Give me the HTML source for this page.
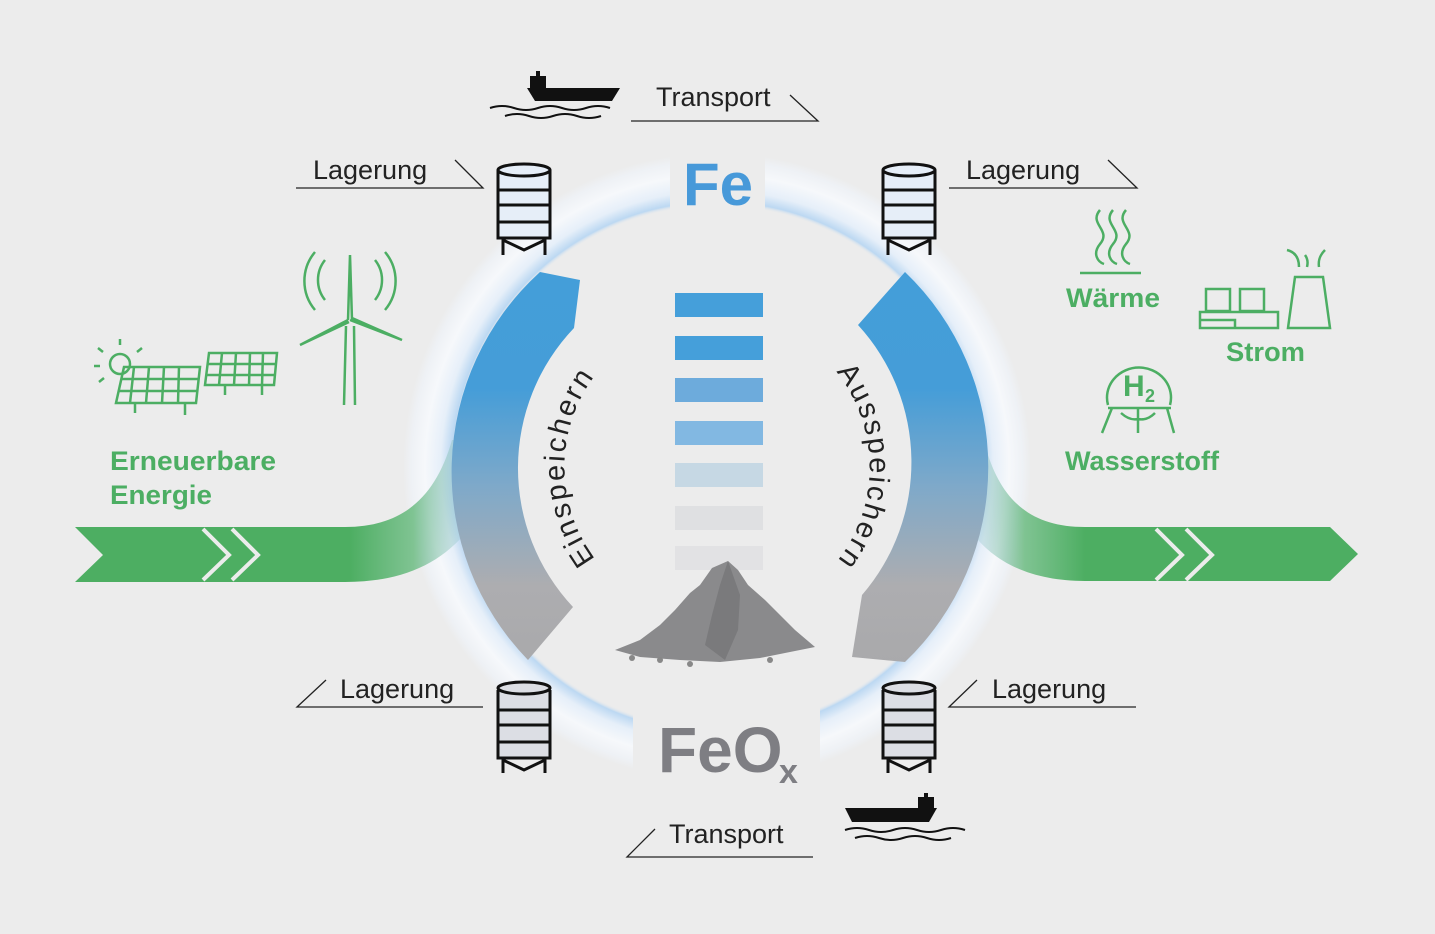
<!DOCTYPE html>
<html><head><meta charset="utf-8"><style>
html,body{margin:0;padding:0;background:#ececec}
svg{display:block}
text{font-family:"Liberation Sans","DejaVu Sans",sans-serif}
</style></head><body>
<svg width="1435" height="934" viewBox="0 0 1435 934" xmlns="http://www.w3.org/2000/svg">
<defs>
<radialGradient id="halo" cx="717" cy="467" r="314" gradientUnits="userSpaceOnUse">
<stop offset="0" stop-color="#ececec" stop-opacity="0"/>
<stop offset="0.83" stop-color="#ececec" stop-opacity="0"/>
<stop offset="0.845" stop-color="#bcd8f2"/>
<stop offset="0.88" stop-color="#e6eff9"/>
<stop offset="0.93" stop-color="#f6f8fb"/>
<stop offset="0.975" stop-color="#eef1f5"/>
<stop offset="1" stop-color="#ececec"/>
</radialGradient>
<linearGradient id="arcg" x1="0" y1="270" x2="0" y2="665" gradientUnits="userSpaceOnUse">
<stop offset="0" stop-color="#449ed9"/>
<stop offset="0.3" stop-color="#459dd8"/>
<stop offset="0.55" stop-color="#7fa9c9"/>
<stop offset="0.8" stop-color="#adadb0"/>
<stop offset="1" stop-color="#a9a9ab"/>
</linearGradient>
<linearGradient id="gl" x1="350" y1="0" x2="465" y2="0" gradientUnits="userSpaceOnUse">
<stop offset="0" stop-color="#4dae62"/>
<stop offset="0.55" stop-color="#6cbc82" stop-opacity="0.85"/>
<stop offset="1" stop-color="#8cc0c8" stop-opacity="0.2"/>
</linearGradient>
<linearGradient id="gr" x1="1085" y1="0" x2="975" y2="0" gradientUnits="userSpaceOnUse">
<stop offset="0" stop-color="#4dae62"/>
<stop offset="0.55" stop-color="#6cbc82" stop-opacity="0.85"/>
<stop offset="1" stop-color="#8cc0c8" stop-opacity="0.2"/>
</linearGradient>
<path id="einP" d="M 641 599 A 152 152 0 0 1 641 335"/>
<path id="ausP" d="M 793 335 A 152 152 0 0 1 793 599"/>
</defs>
<rect width="1435" height="934" fill="#ececec"/>

<circle cx="717" cy="467" r="314" fill="url(#halo)"/>
<rect x="670" y="150" width="95" height="70" fill="#ececec"/>
<rect x="633" y="705" width="187" height="90" fill="#ececec"/>

<path d="M75 527 L345 527 C400 527 435 500 452 440 L468 440 L468 530 C440 565 400 582 345 582 L75 582 L103 555 Z" fill="url(#gl)"/>
<path d="M1358 554 L1330 527 L1085 527 C1030 527 1000 500 985 445 L970 445 L970 530 C995 565 1035 581 1085 581 L1330 581 Z" fill="url(#gr)"/>
<g stroke="#ececec" stroke-width="4" fill="none">
<polyline points="203,529 229,555 203,580"/><polyline points="232,529 258,555 232,580"/>
<polyline points="1156,529 1182,555 1156,580"/><polyline points="1186,529 1212,555 1186,580"/>
</g>

<path d="M540 272 L580 280 L574 328 A 203 203 0 0 0 573 607 L528 660 A 270 270 0 0 1 540 272 Z" fill="url(#arcg)"/>
<path d="M905 272 A 270 270 0 0 1 905 662 L852 657 L862 595 A 203 203 0 0 0 858 325 Z" fill="url(#arcg)"/>

<text font-size="29" fill="#222" letter-spacing="2.5" text-anchor="middle"><textPath href="#einP" startOffset="50%">Einspeichern</textPath></text>
<text font-size="29" fill="#222" letter-spacing="2.5" text-anchor="middle"><textPath href="#ausP" startOffset="50%">Ausspeichern</textPath></text>

<rect x="675" y="293" width="88" height="24" fill="#459fda"/>
<rect x="675" y="336" width="88" height="24" fill="#459fda"/>
<rect x="675" y="378" width="88" height="24" fill="#6dabdc"/>
<rect x="675" y="421" width="88" height="24" fill="#82b8e2"/>
<rect x="675" y="463" width="88" height="24" fill="#c6d8e4"/>
<rect x="675" y="506" width="88" height="24" fill="#dfe0e2"/>
<rect x="675" y="546" width="88" height="24" fill="#e2e2e4"/>

<path d="M615 650 L640 640 L660 625 L675 610 L690 593 L700 585 L712 568 L728 561 L738 570 L748 585 L765 600 L780 615 L795 630 L815 647 L790 652 L760 658 L720 662 L680 660 L640 657 Z" fill="#8a8a8c"/>
<path d="M728 561 L720 585 L712 615 L705 645 L725 660 L738 630 L740 595 Z" fill="#7a7a7c"/>
<circle cx="632" cy="658" r="3" fill="#888"/><circle cx="660" cy="660" r="3" fill="#888"/><circle cx="690" cy="664" r="3" fill="#888"/><circle cx="770" cy="660" r="3" fill="#888"/>

<text x="718" y="205" text-anchor="middle" font-size="60" font-weight="bold" fill="#4799d9">Fe</text>
<text x="658" y="772" font-size="64" font-weight="bold" fill="#7e7e83">FeO</text>
<text x="779" y="783" font-size="34" font-weight="bold" fill="#7e7e83">x</text>

<g id="silo" stroke="#111" stroke-width="3" fill="#e6eef8">
<path d="M498 170 L498 238 L550 238 L550 170"/>
<ellipse cx="524" cy="170" rx="26" ry="6"/>
<line x1="498" y1="190" x2="550" y2="190"/><line x1="498" y1="205" x2="550" y2="205"/><line x1="498" y1="222" x2="550" y2="222"/>
<path d="M503 238 L503 255 M545 238 L545 255 M503 240 L524 250 L545 240" fill="none"/>
</g>
<use href="#silo" x="385"/>
<g stroke="#111" stroke-width="3" fill="#dcdee4">
<path d="M498 690 L498 758 L550 758 L550 690"/><ellipse cx="524" cy="688" rx="26" ry="6"/>
<line x1="498" y1="710" x2="550" y2="710"/><line x1="498" y1="725" x2="550" y2="725"/><line x1="498" y1="742" x2="550" y2="742"/>
<path d="M503 758 L503 773 M545 758 L545 773 M503 760 L524 770 L545 760" fill="none"/>
<path d="M883 690 L883 758 L935 758 L935 690"/><ellipse cx="909" cy="688" rx="26" ry="6"/>
<line x1="883" y1="710" x2="935" y2="710"/><line x1="883" y1="725" x2="935" y2="725"/><line x1="883" y1="742" x2="935" y2="742"/>
<path d="M888 758 L888 773 M930 758 L930 773 M888 760 L909 770 L930 760" fill="none"/>
</g>

<g stroke="#222" stroke-width="1.3" fill="none">
<path d="M296 188 L483 188 L455 160"/>
<path d="M949 188 L1137 188 L1108 160"/>
<path d="M483 707 L297 707 L326 680"/>
<path d="M1136 707 L949 707 L977 680"/>
<path d="M631 121 L818 121 L790 95"/>
<path d="M813 857 L627 857 L655 829"/>
</g>
<g font-size="27" fill="#222">
<text x="313" y="179">Lagerung</text>
<text x="966" y="179">Lagerung</text>
<text x="340" y="698">Lagerung</text>
<text x="992" y="698">Lagerung</text>
<text x="656" y="106">Transport</text>
<text x="669" y="843">Transport</text>
</g>

<g fill="#111">
<path d="M527 88 L620 88 L612 101 L535 101 Z"/><rect x="530" y="76" width="16" height="13"/><rect x="536" y="71" width="4" height="6"/>
<path d="M490 108 q12 -4 24 0 t24 0 t24 0 t24 0 t24 0" stroke="#111" stroke-width="2" fill="none"/>
<path d="M505 116 q12 -4 24 0 t24 0 t24 0 t24 0" stroke="#111" stroke-width="2" fill="none"/>
<path d="M845 808 L937 808 L929 822 L852 822 Z"/><rect x="918" y="797" width="16" height="12"/><rect x="924" y="793" width="4" height="5"/>
<path d="M845 830 q12 -4 24 0 t24 0 t24 0 t24 0 t24 0" stroke="#111" stroke-width="2" fill="none"/>
<path d="M855 838 q12 -4 24 0 t24 0 t24 0 t24 0" stroke="#111" stroke-width="2" fill="none"/>
</g>

<g stroke="#4cae63" stroke-width="2.5" fill="none">
<circle cx="120" cy="364" r="10"/>
<path d="M120 345 v-6 M103 352 l-5 -4 M137 352 l5 -4 M100 366 h-6 M104 378 l-5 4"/>
<path d="M124 367 L200 367 L196 403 L116 403 Z"/>
<path d="M134 367 L130 403 M149 367 L146 403 M164 367 L162 403 M179 367 L178 403 M121 379 H199 M119 391 H198"/>
<path d="M135 403 v10 M185 403 v12"/>
<path d="M209 353 L277 353 L274 385 L205 385 Z"/>
<path d="M222 353 L219 385 M236 353 L234 385 M250 353 L249 385 M263 353 L262 385 M208 364 H276 M207 375 H275 M225 385 v10 M262 385 v10"/>
<path d="M348 320 L350 255 L352 320 M350 320 L402 340 L352 318 M348 320 L300 345 L349 322"/>
<path d="M346 326 L344 405 M354 326 L355 405"/>
<path d="M325 300 a32 32 0 0 1 0 -40 M315 310 a45 45 0 0 1 0 -58 M375 300 a32 32 0 0 0 0 -40 M385 310 a45 45 0 0 0 0 -58"/>
</g>
<g font-size="27" font-weight="bold" fill="#4cae63">
<text x="110" y="470" textLength="166" lengthAdjust="spacingAndGlyphs">Erneuerbare</text>
<text x="110" y="504" textLength="102" lengthAdjust="spacingAndGlyphs">Energie</text>
<text x="1066" y="307" textLength="94" lengthAdjust="spacingAndGlyphs">Wärme</text>
<text x="1226" y="361" textLength="79" lengthAdjust="spacingAndGlyphs">Strom</text>
<text x="1065" y="470" textLength="154" lengthAdjust="spacingAndGlyphs">Wasserstoff</text>
</g>

<g stroke="#4cae63" stroke-width="2.5" fill="none">
<path d="M1100 210 c-12 14 12 20 0 34 c-8 10 -2 18 4 20 M1113 210 c-12 14 12 20 0 34 c-8 10 -2 18 4 20 M1126 210 c-12 14 12 20 0 34 c-8 10 -2 18 4 20"/>
<path d="M1080 273 H1141"/>
<rect x="1206" y="289" width="24" height="22"/><rect x="1240" y="289" width="24" height="22"/>
<rect x="1200" y="312" width="78" height="16"/><path d="M1200 320 H1235 V328"/>
<path d="M1295 277 H1323 L1330 328 H1288 Z"/>
<path d="M1287 250 c8 2 12 8 12 17 M1305 255 c3 4 3 8 2 12 M1325 250 c-5 5 -7 10 -6 17"/>
<path d="M1108 405 a32 30 0 1 1 62 0"/>
<path d="M1108 408 H1171 M1112 408 L1102 433 M1167 408 L1174 433 M1138 408 V433 M1121 413 q9 8 17 6 q9 2 17 -6"/>
</g>
<text x="1123" y="396" font-size="30" font-weight="bold" fill="#4cae63">H</text>
<text x="1145" y="402" font-size="18" font-weight="bold" fill="#4cae63">2</text>
</svg>
</body></html>
